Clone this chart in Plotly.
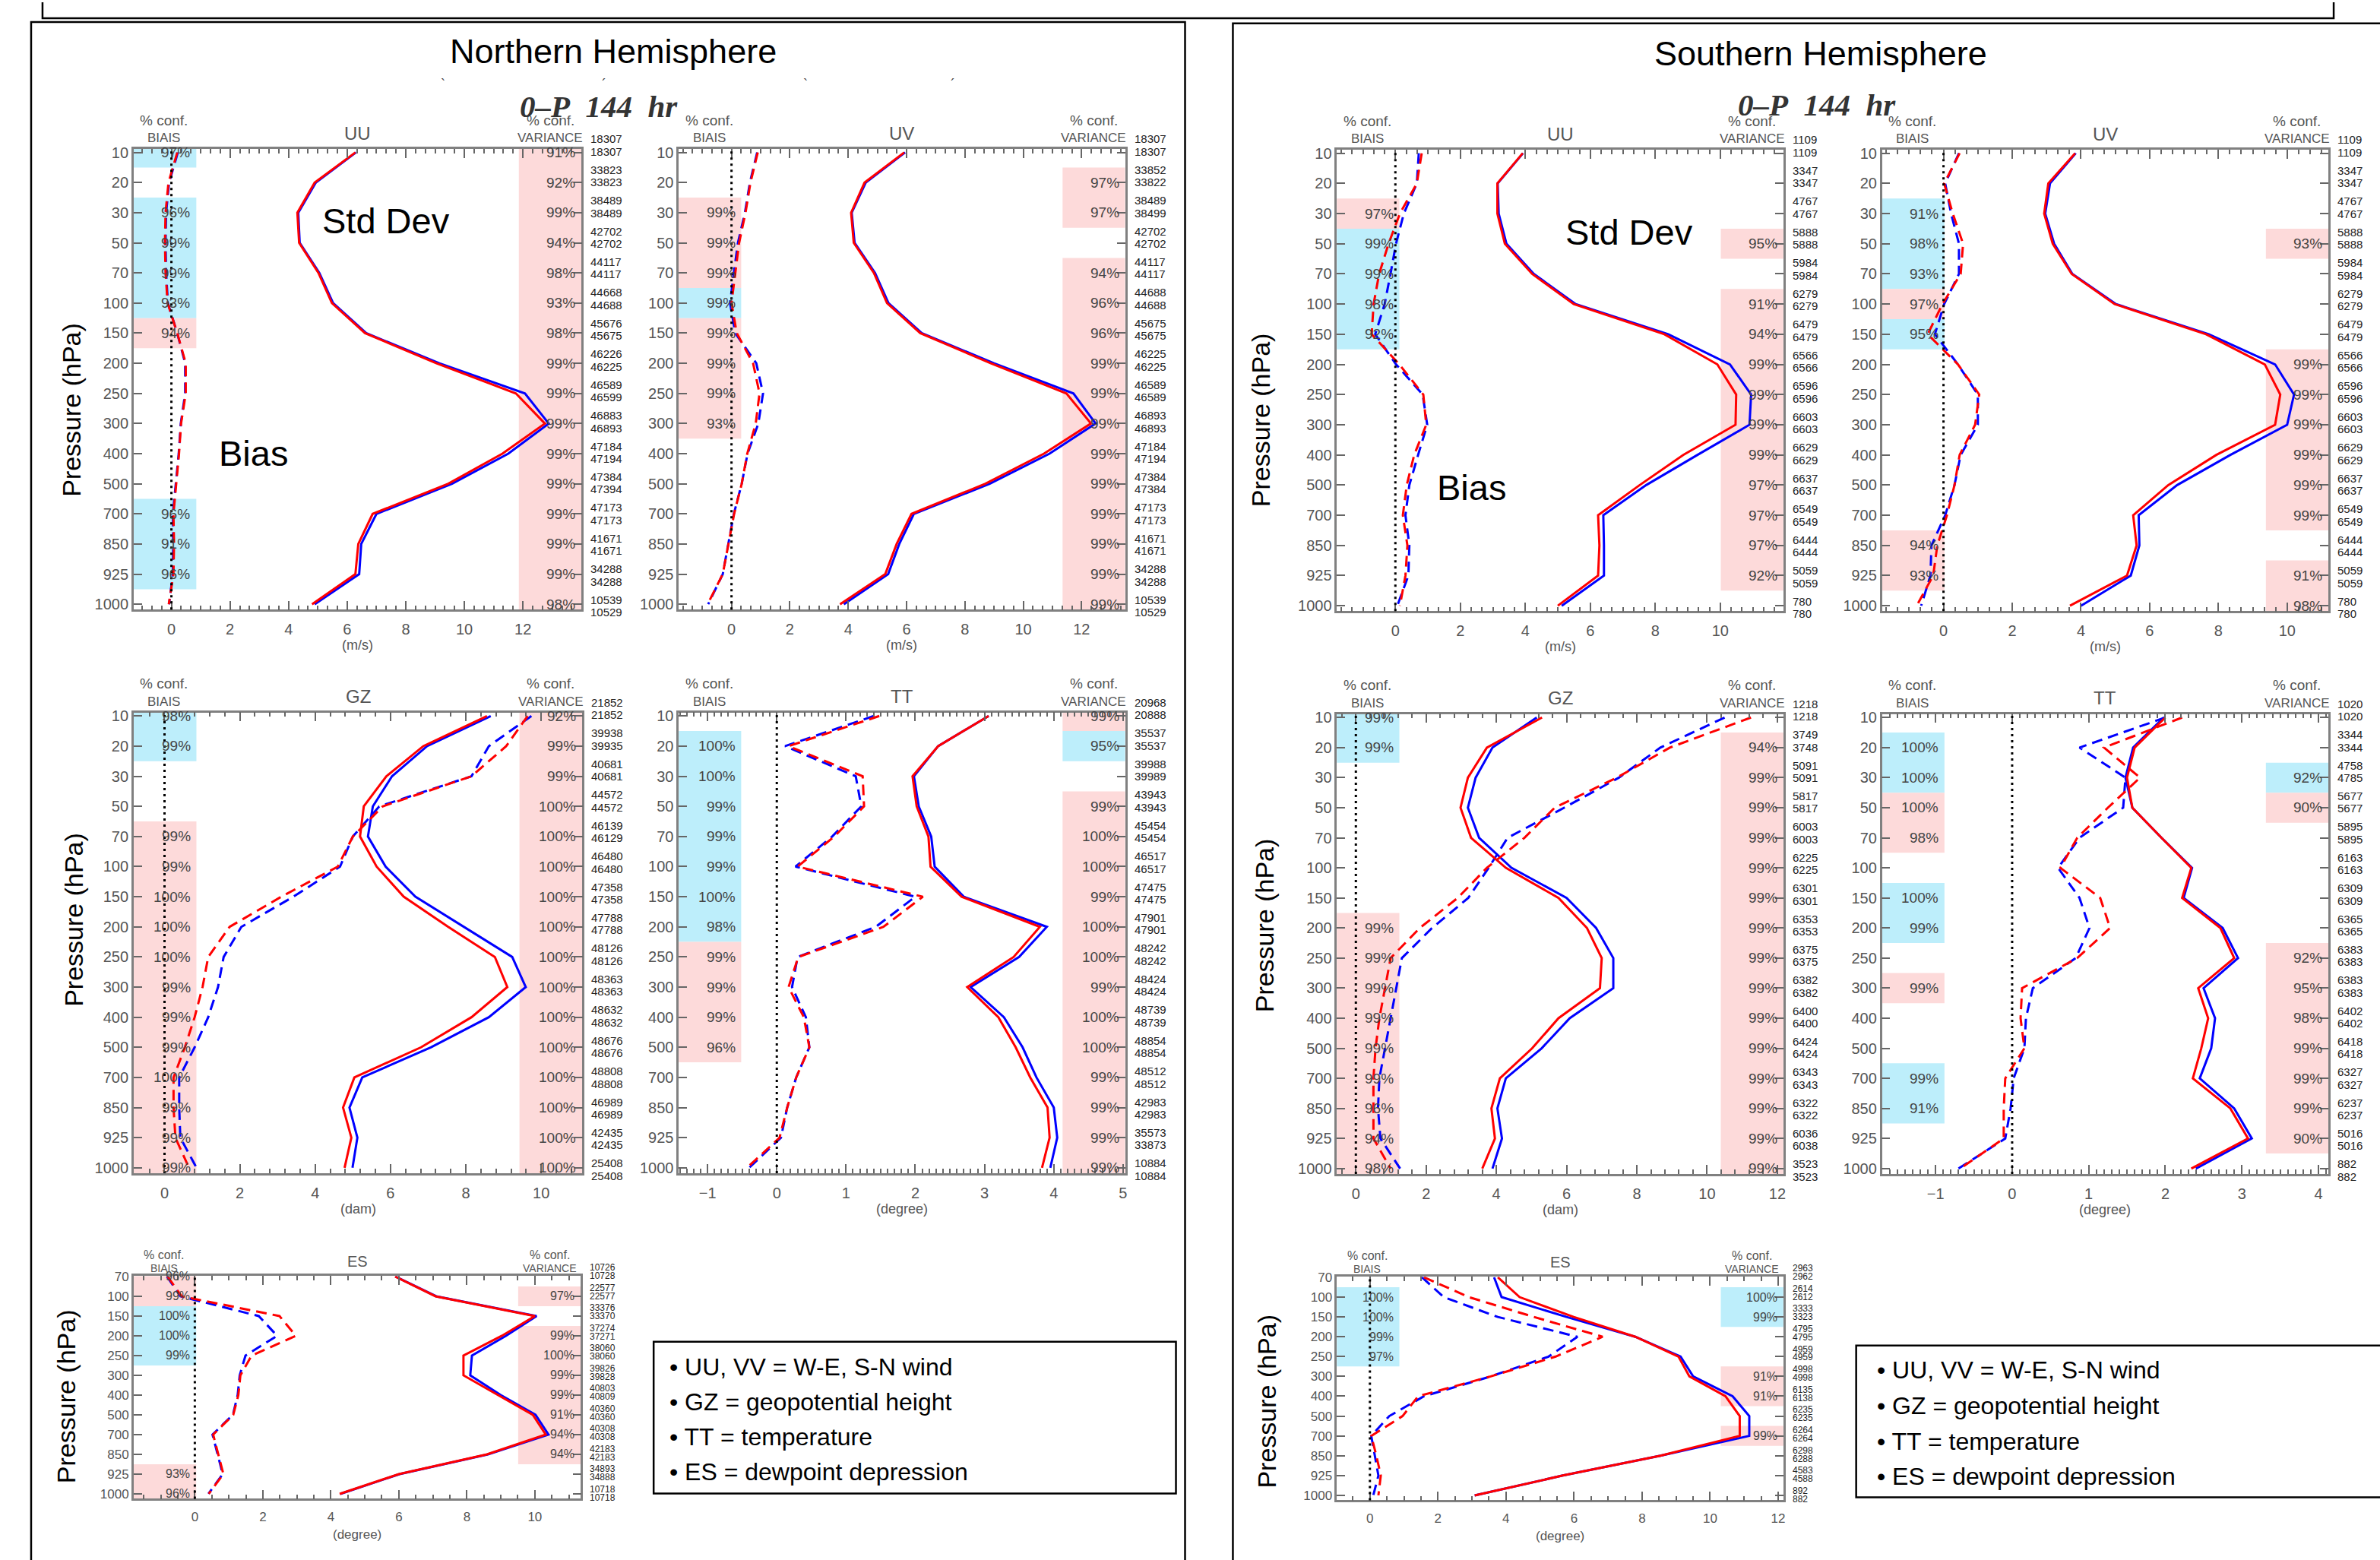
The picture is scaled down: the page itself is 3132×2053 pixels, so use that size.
import plotly.graph_objects as go

W, H = 3132, 2053

LEV16 = ["10", "20", "30", "50", "70", "100", "150", "200", "250", "300", "400", "500", "700", "850", "925", "1000"]
LEV12 = ["70", "100", "150", "200", "250", "300", "400", "500", "700", "850", "925", "1000"]

# ---------------- Northern Hemisphere ----------------
nh_uu_std_red = [6.28, 4.89, 4.30, 4.36, 5.02, 5.48, 6.61, 9.05, 11.76, 12.75, 11.30, 9.45, 6.87, 6.38, 6.28, 4.80]
nh_uu_std_blue = [6.30, 4.93, 4.33, 4.38, 5.05, 5.52, 6.65, 9.15, 12.07, 12.88, 11.50, 9.58, 7.00, 6.48, 6.41, 4.89]
nh_uu_bias_red = [0.20, -0.10, -0.20, -0.22, -0.20, -0.13, 0.20, 0.49, 0.49, 0.33, 0.26, 0.17, 0.07, 0.09, 0.07, -0.09]
nh_uu_bias_blue = [0.22, -0.08, -0.18, -0.20, -0.18, -0.12, 0.20, 0.47, 0.47, 0.32, 0.25, 0.15, 0.05, 0.06, 0.05, -0.08]
nh_uu_bias_conf = [97, None, 96, 99, 99, 93, 94, None, None, None, None, None, 96, 91, 96, None]
nh_uu_bias_col = ["B", "", "B", "B", "B", "B", "R", "", "", "", "", "", "B", "B", "B", ""]
nh_uu_var_conf = [91, 92, 99, 94, 98, 93, 98, 99, 99, 99, 99, 99, 99, 99, 99, 98]
nh_uu_var_col = ["R"] * 16
nh_uu_n_top = [18307, 33823, 38489, 42702, 44117, 44668, 45676, 46226, 46589, 46883, 47184, 47384, 47173, 41671, 34288, 10539]
nh_uu_n_bot = [18307, 33823, 38489, 42702, 44117, 44688, 45675, 46225, 46599, 46893, 47194, 47394, 47173, 41671, 34288, 10529]

nh_uv_std_red = [5.92, 4.56, 4.10, 4.19, 4.88, 5.33, 6.47, 8.89, 11.48, 12.32, 10.71, 8.70, 6.17, 5.66, 5.27, 3.72]
nh_uv_std_blue = [5.95, 4.60, 4.12, 4.22, 4.92, 5.38, 6.52, 9.00, 11.72, 12.48, 10.90, 8.85, 6.25, 5.75, 5.37, 3.85]
nh_uv_bias_red = [0.90, 0.65, 0.48, 0.26, 0.13, 0.00, 0.18, 0.74, 0.96, 0.83, 0.54, 0.35, 0.09, -0.10, -0.30, -0.82]
nh_uv_bias_blue = [0.88, 0.63, 0.46, 0.22, 0.08, -0.05, 0.13, 0.85, 1.08, 0.92, 0.55, 0.35, 0.08, -0.10, -0.30, -0.80]
nh_uv_bias_conf = [None, None, 99, 99, 99, 99, 99, 99, 99, 93, None, None, None, None, None, None]
nh_uv_bias_col = ["", "", "R", "R", "R", "B", "R", "R", "R", "R", "", "", "", "", "", ""]
nh_uv_var_conf = [None, 97, 97, None, 94, 96, 96, 99, 99, 99, 99, 99, 99, 99, 99, 99]
nh_uv_var_col = ["", "R", "R", "", "R", "R", "R", "R", "R", "R", "R", "R", "R", "R", "R", "R"]
nh_uv_n_top = [18307, 33852, 38489, 42702, 44117, 44688, 45675, 46225, 46589, 46893, 47184, 47384, 47173, 41671, 34288, 10539]
nh_uv_n_bot = [18307, 33822, 38499, 42702, 44117, 44688, 45675, 46225, 46589, 46893, 47194, 47384, 47173, 41671, 34288, 10529]

nh_gz_std_red = [8.56, 6.87, 5.89, 5.29, 5.19, 5.63, 6.35, 7.53, 8.77, 9.10, 8.15, 6.81, 5.04, 4.74, 4.96, 4.78]
nh_gz_std_blue = [8.66, 6.97, 6.04, 5.53, 5.40, 5.87, 6.66, 7.94, 9.23, 9.59, 8.61, 7.07, 5.25, 4.91, 5.12, 4.99]
nh_gz_bias_red = [9.64, 9.07, 8.15, 5.79, 5.00, 4.60, 3.10, 1.73, 1.16, 1.01, 0.80, 0.54, 0.24, 0.24, 0.29, 0.65]
nh_gz_bias_blue = [9.74, 8.61, 8.15, 5.70, 5.00, 4.66, 3.42, 2.04, 1.57, 1.42, 1.16, 0.80, 0.39, 0.39, 0.42, 0.85]
nh_gz_bias_conf = [98, 99, None, None, 99, 99, 100, 100, 100, 99, 99, 99, 100, 99, 99, 99]
nh_gz_bias_col = ["B", "B", "", "", "R", "R", "R", "R", "R", "R", "R", "R", "R", "R", "R", "R"]
nh_gz_var_conf = [92, 99, 99, 100, 100, 100, 100, 100, 100, 100, 100, 100, 100, 100, 100, 100]
nh_gz_var_col = ["R"] * 16
nh_gz_n_top = [21852, 39938, 40681, 44572, 46139, 46480, 47358, 47788, 48126, 48363, 48632, 48676, 48808, 46989, 42435, 25408]
nh_gz_n_bot = [21852, 39935, 40681, 44572, 46129, 46480, 47358, 47788, 48126, 48363, 48632, 48676, 48808, 46989, 42435, 25408]

nh_tt_std_red = [3.06, 2.33, 1.96, 2.02, 2.19, 2.22, 2.67, 3.80, 3.42, 2.75, 3.20, 3.45, 3.66, 3.91, 3.94, 3.83]
nh_tt_std_blue = [3.06, 2.33, 1.98, 2.05, 2.23, 2.28, 2.70, 3.90, 3.50, 2.80, 3.28, 3.55, 3.75, 4.00, 4.05, 3.95]
nh_tt_bias_red = [1.48, 0.17, 1.24, 1.26, 0.83, 0.30, 2.11, 1.54, 0.31, 0.17, 0.39, 0.47, 0.28, 0.15, 0.04, -0.43]
nh_tt_bias_blue = [1.40, 0.12, 1.14, 1.22, 0.80, 0.27, 2.00, 1.43, 0.30, 0.22, 0.42, 0.47, 0.28, 0.15, 0.06, -0.40]
nh_tt_bias_conf = [None, 100, 100, 99, 99, 99, 100, 98, 99, 99, 99, 96, None, None, None, None]
nh_tt_bias_col = ["", "B", "B", "B", "B", "B", "B", "B", "R", "R", "R", "R", "", "", "", ""]
nh_tt_var_conf = [99, 95, None, 99, 100, 100, 99, 100, 100, 99, 100, 100, 99, 99, 99, 99]
nh_tt_var_col = ["R", "B", "", "R", "R", "R", "R", "R", "R", "R", "R", "R", "R", "R", "R", "R"]
nh_tt_n_top = [20968, 35537, 39988, 43943, 45454, 46517, 47475, 47901, 48242, 48424, 48739, 48854, 48512, 42983, 35573, 10884]
nh_tt_n_bot = [20888, 35537, 39989, 43943, 45454, 46517, 47475, 47901, 48242, 48424, 48739, 48854, 48512, 42983, 33873, 10884]

nh_es_std_red = [5.89, 7.08, 10.00, 9.03, 7.90, 7.90, 8.92, 9.94, 10.32, 8.59, 6.00, 4.26]
nh_es_std_blue = [5.90, 7.10, 10.05, 9.15, 8.15, 8.10, 9.00, 10.02, 10.40, 8.62, 6.02, 4.28]
nh_es_bias_red = [-0.80, -0.39, 2.49, 2.97, 1.67, 1.34, 1.28, 1.13, 0.54, 0.69, 0.84, 0.41]
nh_es_bias_blue = [-0.82, -0.42, 1.88, 2.42, 1.49, 1.32, 1.26, 1.12, 0.52, 0.67, 0.82, 0.40]
nh_es_bias_conf = [96, 99, 100, 100, 99, None, None, None, None, None, 93, 96]
nh_es_bias_col = ["R", "R", "B", "B", "B", "", "", "", "", "", "R", "R"]
nh_es_var_conf = [None, 97, None, 99, 100, 99, 99, 91, 94, 94, None, None]
nh_es_var_col = ["", "R", "", "R", "R", "R", "R", "R", "R", "R", "", ""]
nh_es_n_top = [10726, 22577, 33376, 37274, 38060, 39826, 40803, 40360, 40308, 42183, 34893, 10718]
nh_es_n_bot = [10728, 22577, 33370, 37271, 38060, 39828, 40809, 40360, 40308, 42183, 34888, 10718]

# ---------------- Southern Hemisphere ----------------
sh_uu_std_red = [3.92, 3.14, 3.14, 3.37, 4.21, 5.49, 8.28, 9.91, 10.49, 10.47, 8.86, 7.52, 6.24, 6.28, 6.24, 5.00]
sh_uu_std_blue = [3.93, 3.15, 3.18, 3.42, 4.26, 5.55, 8.40, 10.30, 10.95, 10.90, 9.30, 7.72, 6.40, 6.42, 6.42, 5.12]
sh_uu_bias_red = [0.81, 0.66, 0.14, -0.21, -0.50, -0.67, -0.73, 0.12, 0.86, 0.95, 0.58, 0.35, 0.23, 0.37, 0.31, 0.14]
sh_uu_bias_blue = [0.72, 0.66, 0.26, 0.02, -0.15, -0.33, -0.62, 0.02, 0.84, 0.98, 0.70, 0.43, 0.31, 0.43, 0.40, 0.06]
sh_uu_bias_conf = [None, None, 97, 99, 99, 98, 92, None, None, None, None, None, None, None, None, None]
sh_uu_bias_col = ["", "", "R", "B", "B", "B", "B", "", "", "", "", "", "", "", "", ""]
sh_uu_var_conf = [None, None, None, 95, None, 91, 94, 99, 99, 99, 99, 97, 97, 97, 92, None]
sh_uu_var_col = ["", "", "", "R", "", "R", "R", "R", "R", "R", "R", "R", "R", "R", "R", ""]
sh_uu_n_top = [1109, 3347, 4767, 5888, 5984, 6279, 6479, 6566, 6596, 6603, 6629, 6637, 6549, 6444, 5059, 780]
sh_uu_n_bot = [1109, 3347, 4767, 5888, 5984, 6279, 6479, 6566, 6596, 6603, 6629, 6637, 6549, 6444, 5059, 780]

sh_uv_std_red = [3.83, 3.05, 2.93, 3.18, 3.73, 4.98, 7.64, 9.35, 9.80, 9.65, 7.94, 6.54, 5.52, 5.62, 5.34, 3.68]
sh_uv_std_blue = [3.85, 3.10, 2.96, 3.22, 3.75, 5.02, 7.72, 9.65, 10.20, 10.00, 8.35, 6.80, 5.68, 5.70, 5.45, 4.00]
sh_uv_bias_red = [0.47, 0.02, 0.27, 0.57, 0.50, -0.03, -0.46, 0.42, 1.04, 0.92, 0.47, 0.32, 0.10, -0.18, -0.30, -0.78]
sh_uv_bias_blue = [0.45, 0.05, 0.22, 0.45, 0.45, 0.02, -0.25, 0.42, 1.00, 1.00, 0.50, 0.32, 0.05, -0.35, -0.38, -0.65]
sh_uv_bias_conf = [None, None, 91, 98, 93, 97, 95, None, None, None, None, None, None, 94, 93, None]
sh_uv_bias_col = ["", "", "B", "B", "B", "R", "B", "", "", "", "", "", "", "R", "R", ""]
sh_uv_var_conf = [None, None, None, 93, None, None, None, 99, 99, 99, 99, 99, 99, None, 91, 98]
sh_uv_var_col = ["", "", "", "R", "", "", "", "R", "R", "R", "R", "R", "R", "", "R", "R"]
sh_uv_n_top = [1109, 3347, 4767, 5888, 5984, 6279, 6479, 6566, 6596, 6603, 6629, 6637, 6549, 6444, 5059, 780]
sh_uv_n_bot = [1109, 3347, 4767, 5888, 5984, 6279, 6479, 6566, 6596, 6603, 6629, 6637, 6549, 6444, 5059, 780]

sh_gz_std_red = [5.30, 3.73, 3.19, 2.98, 3.28, 4.27, 5.77, 6.58, 7.00, 6.95, 5.77, 5.02, 4.10, 3.86, 3.96, 3.60]
sh_gz_std_blue = [5.15, 3.89, 3.41, 3.19, 3.51, 4.43, 6.00, 6.84, 7.33, 7.33, 6.09, 5.29, 4.27, 4.03, 4.16, 3.89]
sh_gz_bias_red = [11.25, 8.94, 7.43, 5.66, 4.80, 3.73, 2.90, 1.82, 0.99, 0.83, 0.67, 0.56, 0.50, 0.50, 0.50, 0.99]
sh_gz_bias_blue = [10.50, 8.67, 7.49, 5.93, 4.32, 3.78, 3.20, 2.17, 1.31, 1.15, 0.99, 0.83, 0.67, 0.63, 0.70, 1.26]
sh_gz_bias_conf = [99, 99, None, None, None, None, None, 99, 99, 99, 99, 99, 99, 96, 94, 98]
sh_gz_bias_col = ["B", "B", "", "", "", "", "", "R", "R", "R", "R", "R", "R", "R", "R", "R"]
sh_gz_var_conf = [None, 94, 99, 99, 99, 99, 99, 99, 99, 99, 99, 99, 99, 99, 99, 99]
sh_gz_var_col = [""] + ["R"] * 15
sh_gz_n_top = [1218, 3749, 5091, 5817, 6003, 6225, 6301, 6353, 6375, 6382, 6400, 6424, 6343, 6322, 6036, 3523]
sh_gz_n_bot = [1218, 3748, 5091, 5817, 6003, 6225, 6301, 6353, 6375, 6382, 6400, 6424, 6343, 6322, 6038, 3523]

sh_tt_std_red = [2.00, 1.60, 1.50, 1.57, 1.95, 2.34, 2.22, 2.72, 2.90, 2.43, 2.56, 2.47, 2.36, 2.85, 3.08, 2.34]
sh_tt_std_blue = [1.98, 1.58, 1.48, 1.57, 1.95, 2.35, 2.24, 2.75, 2.95, 2.50, 2.65, 2.60, 2.45, 2.90, 3.13, 2.40]
sh_tt_bias_red = [2.22, 1.20, 1.67, 1.25, 0.85, 0.63, 1.15, 1.28, 0.85, 0.13, 0.11, 0.16, -0.09, -0.11, -0.11, -0.68]
sh_tt_bias_blue = [2.00, 0.88, 1.48, 1.45, 0.88, 0.60, 0.88, 1.01, 0.83, 0.27, 0.18, 0.16, 0.02, -0.02, -0.09, -0.70]
sh_tt_bias_conf = [None, 100, 100, 100, 98, None, 100, 99, None, 99, None, None, 99, 91, None, None]
sh_tt_bias_col = ["", "B", "B", "R", "R", "", "B", "B", "", "R", "", "", "B", "B", "", ""]
sh_tt_var_conf = [None, None, 92, 90, None, None, None, None, 92, 95, 98, 99, 99, 99, 90, None]
sh_tt_var_col = ["", "", "B", "R", "", "", "", "", "R", "R", "R", "R", "R", "R", "R", ""]
sh_tt_n_top = [1020, 3344, 4758, 5677, 5895, 6163, 6309, 6365, 6383, 6383, 6402, 6418, 6327, 6237, 5016, 882]
sh_tt_n_bot = [1020, 3344, 4785, 5677, 5895, 6163, 6309, 6365, 6383, 6383, 6402, 6418, 6327, 6237, 5016, 882]

sh_es_std_red = [3.76, 4.40, 5.99, 7.80, 9.07, 9.39, 10.45, 10.87, 10.87, 8.54, 5.67, 3.08]
sh_es_std_blue = [3.65, 3.87, 5.78, 7.80, 9.13, 9.50, 10.66, 11.15, 11.15, 8.54, 5.67, 3.08]
sh_es_bias_red = [1.59, 2.91, 4.82, 6.84, 5.46, 3.55, 1.42, 0.96, 0.04, 0.19, 0.32, 0.25]
sh_es_bias_blue = [1.53, 2.17, 3.76, 6.10, 5.25, 3.55, 1.59, 0.57, 0.04, 0.15, 0.25, 0.10]
sh_es_bias_conf = [None, 100, 100, 99, 97, None, None, None, None, None, None, None]
sh_es_bias_col = ["", "B", "B", "B", "B", "", "", "", "", "", "", ""]
sh_es_var_conf = [None, 100, 99, None, None, 91, 91, None, 99, None, None, None]
sh_es_var_col = ["", "B", "B", "", "", "R", "R", "", "R", "", "", ""]
sh_es_n_top = [2963, 2614, 3333, 4795, 4959, 4998, 6135, 6235, 6264, 6298, 4583, 892]
sh_es_n_bot = [2962, 2612, 3323, 4795, 4959, 4998, 6138, 6235, 6264, 6288, 4588, 882]

legend_lines = ["• UU, VV = W-E, S-N wind", "• GZ = geopotential height", "• TT = temperature", "• ES = dewpoint depression"]

# ---------------- styling ----------------
RED, BLUE = "#ff0000", "#0000ff"
FILL = {"B": "#bdeefb", "R": "#fddada"}
DASH = "14px,8px"
GRAY = "#555555"
FRAME = "#808080"


def px(x):
    return x / W


def py(y):
    return 1 - y / H


fig = go.Figure()
layout_axes = {}
shapes = []
annotations = []


def ann(x, y, text, size, color="black", xanchor="center", yanchor="middle", angle=0, family="Liberation Sans", **kw):
    d = dict(x=x, y=y, text=text, showarrow=False, xanchor=xanchor, yanchor=yanchor,
             font=dict(size=size, color=color, family=family), textangle=angle)
    d.update(kw)
    d.setdefault("xref", "paper")
    d.setdefault("yref", "paper")
    annotations.append(d)


def runs(cols):
    out, i, n = [], 0, len(cols)
    while i < n:
        c = cols[i]
        if c:
            j = i
            while j + 1 < n and cols[j + 1] == c:
                j += 1
            out.append((c, i, j))
            i = j + 1
        else:
            i += 1
    return out


def add_panel(n, frame, xr, xticks, minor, title, unit, levels, sr, sb, br, bb,
              bconf, bcol, vconf, vcol, ntop, nbot):
    x0, x1, y0, y1 = frame
    nl = len(levels)
    es = nl == 12
    ytop = -0.03 if es else -0.12
    ybot = nl - 1 + (0.25 if es else 0.18)
    xa = "x" if n == 1 else f"x{n}"
    ya = "y" if n == 1 else f"y{n}"
    idx = list(range(nl))
    tfs = 17 if es else 20

    def ypix(v):
        return y0 + (v - ytop) / (ybot - ytop) * (y1 - y0)

    for vals, color, dash in [(bb, BLUE, DASH), (sb, BLUE, "solid"), (br, RED, DASH), (sr, RED, "solid")]:
        fig.add_trace(go.Scatter(x=vals, y=idx, mode="lines",
                                 line=dict(color=color, width=3, dash=dash),
                                 xaxis=xa, yaxis=ya, showlegend=False, hoverinfo="skip"))
    layout_axes["xaxis" if n == 1 else f"xaxis{n}"] = dict(
        domain=[px(x0), px(x1)], anchor=ya, range=list(xr), tickmode="array",
        tickvals=xticks, ticktext=[f"{v:g}".replace("-", "\u2212") for v in xticks],
        ticks="inside", ticklen=12, tickwidth=2, tickcolor="#666", showline=True,
        linecolor=FRAME, linewidth=2.5, mirror="ticks", showgrid=False, zeroline=False,
        tickfont=dict(size=tfs, color=GRAY), ticklabelstandoff=6,
        minor=dict(tickmode="linear", tick0=0, dtick=minor, ticks="inside", ticklen=6,
                   tickwidth=1.5, tickcolor="#666", showgrid=False))
    layout_axes["yaxis" if n == 1 else f"yaxis{n}"] = dict(
        domain=[py(y1), py(y0)], anchor=xa, range=[ybot, ytop], tickmode="array",
        tickvals=idx, ticktext=levels, ticks="inside", ticklen=11, tickwidth=2,
        tickcolor="#666", showline=True, linecolor=FRAME, linewidth=2.5, mirror="ticks",
        showgrid=False, zeroline=False, tickfont=dict(size=tfs, color=GRAY))
    # shaded confidence boxes
    for cols, xa0, xa1 in [(bcol, 0.0, 0.14), (vcol, 0.86, 1.0)]:
        for c, i, j in runs(cols):
            shapes.append(dict(type="rect", xref=f"{xa} domain", yref=ya, x0=xa0, x1=xa1,
                               y0=max(i - 0.5, ytop), y1=min(j + 0.5, ybot),
                               fillcolor=FILL[c], line=dict(width=0), layer="below"))
    # zero line
    shapes.append(dict(type="line", xref=xa, yref=f"{ya} domain", x0=0, x1=0, y0=0, y1=1,
                       line=dict(color="black", width=3, dash="3px,5px"), layer="above"))
    pfs = 16 if es else 19
    cfs = 12 if es else 15
    for i in idx:
        if bconf[i] is not None:
            ann(0.13, i, f"{bconf[i]}%", pfs, color="#444", xanchor="right",
                xref=f"{xa} domain", yref=ya)
        if vconf[i] is not None:
            ann(0.99, i, f"{vconf[i]}%", pfs, color="#444", xanchor="right",
                xref=f"{xa} domain", yref=ya)
        ann(px(x1 + 10), py(ypix(-0.45 + 1.02 * i)), str(ntop[i]), cfs, color="#222", xanchor="left")
        ann(px(x1 + 10), py(ypix(-0.035 + 1.02 * i)), str(nbot[i]), cfs, color="#222", xanchor="left")
    w = x1 - x0
    hs = 16 if es else 19
    up1, up2, upt = (28, 10, 19) if es else (38, 14, 21)
    ann(px(x0 + 0.068 * w), py(y0 - up1), "% conf.", hs, color=GRAY)
    ann(px(x0 + 0.068 * w), py(y0 - up2), "BIAIS", hs - 2, color=GRAY)
    ann(px(x0 + 0.93 * w), py(y0 - up1), "% conf.", hs, color=GRAY)
    ann(px(x0 + 0.93 * w), py(y0 - up2), "VARIANCE", hs - 2, color=GRAY)
    ann(px((x0 + x1) / 2), py(y0 - upt), title, 20 if es else 24, color=GRAY)
    ann(px((x0 + x1) / 2), py(y1 + 47), unit, 17 if es else 18, color=GRAY)


panels = [
    (1, (176, 766, 189, 799), (-1.29, 14.0), [0, 2, 4, 6, 8, 10, 12], 1 / 3, "UU", "(m/s)", LEV16,
     nh_uu_std_red, nh_uu_std_blue, nh_uu_bias_red, nh_uu_bias_blue, nh_uu_bias_conf, nh_uu_bias_col,
     nh_uu_var_conf, nh_uu_var_col, nh_uu_n_top, nh_uu_n_bot),
    (2, (894, 1482, 189, 799), (-1.81, 13.49), [0, 2, 4, 6, 8, 10, 12], 1 / 3, "UV", "(m/s)", LEV16,
     nh_uv_std_red, nh_uv_std_blue, nh_uv_bias_red, nh_uv_bias_blue, nh_uv_bias_conf, nh_uv_bias_col,
     nh_uv_var_conf, nh_uv_var_col, nh_uv_n_top, nh_uv_n_bot),
    (3, (176, 767, 935, 1545), (-0.82, 11.09), [0, 2, 4, 6, 8, 10], 0.4, "GZ", "(dam)", LEV16,
     nh_gz_std_red, nh_gz_std_blue, nh_gz_bias_red, nh_gz_bias_blue, nh_gz_bias_conf, nh_gz_bias_col,
     nh_gz_var_conf, nh_gz_var_col, nh_gz_n_top, nh_gz_n_bot),
    (4, (894, 1482, 935, 1545), (-1.417, 5.03), [-1, 0, 1, 2, 3, 4, 5], 0.1, "TT", "(degree)", LEV16,
     nh_tt_std_red, nh_tt_std_blue, nh_tt_bias_red, nh_tt_bias_blue, nh_tt_bias_conf, nh_tt_bias_col,
     nh_tt_var_conf, nh_tt_var_col, nh_tt_n_top, nh_tt_n_bot),
    (5, (176, 765, 1681, 1976), (-1.8, 11.35), [0, 2, 4, 6, 8, 10], 0.5, "ES", "(degree)", LEV12,
     nh_es_std_red, nh_es_std_blue, nh_es_bias_red, nh_es_bias_blue, nh_es_bias_conf, nh_es_bias_col,
     nh_es_var_conf, nh_es_var_col, nh_es_n_top, nh_es_n_bot),
    (6, (1761, 2349, 190, 801), (-1.8, 11.94), [0, 2, 4, 6, 8, 10], 1 / 3, "UU", "(m/s)", LEV16,
     sh_uu_std_red, sh_uu_std_blue, sh_uu_bias_red, sh_uu_bias_blue, sh_uu_bias_conf, sh_uu_bias_col,
     sh_uu_var_conf, sh_uu_var_col, sh_uu_n_top, sh_uu_n_bot),
    (7, (2479, 3067, 190, 801), (-1.79, 11.2), [0, 2, 4, 6, 8, 10], 1 / 3, "UV", "(m/s)", LEV16,
     sh_uv_std_red, sh_uv_std_blue, sh_uv_bias_red, sh_uv_bias_blue, sh_uv_bias_conf, sh_uv_bias_col,
     sh_uv_var_conf, sh_uv_var_col, sh_uv_n_top, sh_uv_n_bot),
    (8, (1761, 2349, 937, 1546), (-0.54, 12.17), [0, 2, 4, 6, 8, 10, 12], 0.4, "GZ", "(dam)", LEV16,
     sh_gz_std_red, sh_gz_std_blue, sh_gz_bias_red, sh_gz_bias_blue, sh_gz_bias_conf, sh_gz_bias_col,
     sh_gz_var_conf, sh_gz_var_col, sh_gz_n_top, sh_gz_n_bot),
    (9, (2479, 3067, 937, 1546), (-1.70, 4.13), [-1, 0, 1, 2, 3, 4], 0.1, "TT", "(degree)", LEV16,
     sh_tt_std_red, sh_tt_std_blue, sh_tt_bias_red, sh_tt_bias_blue, sh_tt_bias_conf, sh_tt_bias_col,
     sh_tt_var_conf, sh_tt_var_col, sh_tt_n_top, sh_tt_n_bot),
    (10, (1761, 2349, 1682, 1978), (-0.97, 12.15), [0, 2, 4, 6, 8, 10, 12], 0.5, "ES", "(degree)", LEV12,
     sh_es_std_red, sh_es_std_blue, sh_es_bias_red, sh_es_bias_blue, sh_es_bias_conf, sh_es_bias_col,
     sh_es_var_conf, sh_es_var_col, sh_es_n_top, sh_es_n_bot),
]

for p in panels:
    add_panel(*p)


# ---------------- frames, titles, legends ----------------
def prect(x0, y0, x1, y1, width=2.5, color="black"):
    shapes.append(dict(type="rect", xref="paper", yref="paper", x0=px(x0), x1=px(x1),
                       y0=py(y1), y1=py(y0), line=dict(color=color, width=width),
                       fillcolor="rgba(0,0,0,0)", layer="above"))


shapes.append(dict(type="path", xref="paper", yref="paper",
                   path=f"M {px(56)} {py(-5)} L {px(56)} {py(16)} L {px(3074)} {py(16)} L {px(3074)} {py(-5)}",
                   line=dict(color="black", width=2.5)))
prect(41, 21, 1561, 2075)
prect(1624, 23, 3145, 2075)
prect(861, 1768, 1549, 1969)
prect(2445, 1773, 3145, 1974)

ann(px(808), py(60), "Northern Hemisphere", 45)
ann(px(2398), py(63), "Southern Hemisphere", 45)
OP = "<b><i>0\u2013P\u00a0\u00a0144\u00a0\u00a0hr</i></b>"
ann(px(789), py(133), OP, 41, color="#333", family="Liberation Serif")
ann(px(2393), py(131), OP, 41, color="#333", family="Liberation Serif")
for mx, mt in [(584, "`"), (796, "\u00b4"), (1061, "`"), (1255, "\u00b4")]:
    ann(px(mx), py(104), mt, 18, color="#444")

ann(px(508), py(284), "Std Dev", 47)
ann(px(334), py(592), "Bias", 47)
ann(px(2146), py(299), "Std Dev", 47)
ann(px(1938), py(637), "Bias", 47)

for xx, yy in [(94, 534), (97, 1209), (87, 1840), (1660, 548), (1665, 1217), (1669, 1847)]:
    ann(px(xx), py(yy), "Pressure (hPa)", 34, angle=-90)

for (lx, ys) in [(880, [1802, 1848, 1894, 1940]), (2470, [1806, 1853, 1900, 1946])]:
    for t, yy in zip(legend_lines, ys):
        ann(px(lx), py(yy), t, 32, xanchor="left")

fig.update_layout(width=W, height=H, margin=dict(l=0, r=0, t=0, b=0), autosize=False,
                  paper_bgcolor="white", plot_bgcolor="white", showlegend=False,
                  font=dict(family="Liberation Sans"), shapes=shapes, annotations=annotations,
                  **layout_axes)
fig.write_html("out.html", config={"displayModeBar": False},
               post_script="document.body.style.margin='0px';document.body.style.overflow='hidden';")
